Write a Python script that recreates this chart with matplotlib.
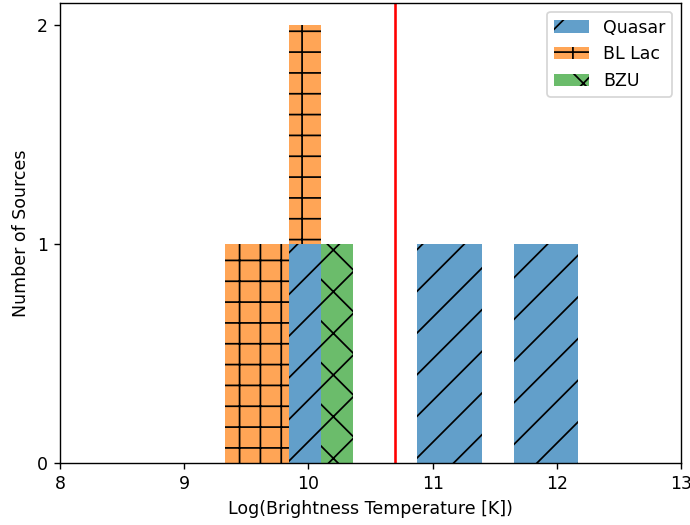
import matplotlib
matplotlib.use("Agg")
import matplotlib.pyplot as plt
from matplotlib.colors import to_rgba

# log10 brightness temperatures per class
quasar = [9.95, 10.95, 11.25, 11.75, 12.168]
bllac = [9.33, 9.70, 9.95]
bzu = [10.25]
labels = ["Quasar", "BL Lac", "BZU"]
hatches = ["/", "+", "x"]
colors = ["C0", "C1", "C2"]
tb_limit = 10.7

plt.rcParams['hatch.color'] = 'black'
plt.rcParams['hatch.linewidth'] = 1.0

fig = plt.figure(figsize=(5.52, 4.2), dpi=125)
ax = fig.add_axes([0.087, 0.118, 0.900, 0.8763])

n, bins, patches = ax.hist([quasar, bllac, bzu], bins=11, stacked=True,
                           color=[to_rgba(c, 0.7) for c in colors],
                           label=labels, edgecolor='black', linewidth=0)
for group, h in zip(patches, hatches):
    for p in group:
        p.set_hatch(h)

ax.axvline(tb_limit, color='red', lw=1.5)

ax.set_xlim(8, 13)
ax.set_yticks([0, 1, 2])
ax.set_xlabel("Log(Brightness Temperature [K])")
ax.set_ylabel("Number of Sources")
ax.legend(loc='upper right')

fig.savefig("out.png", dpi=125)
